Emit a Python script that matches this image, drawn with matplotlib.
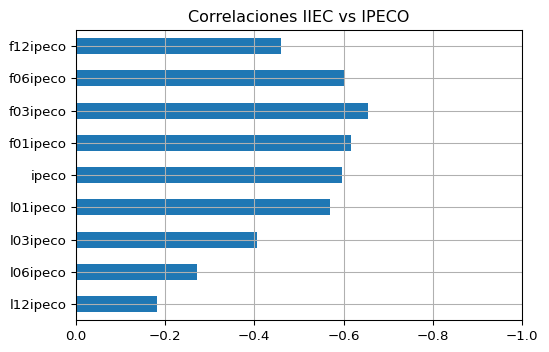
import matplotlib
matplotlib.use('Agg')
import matplotlib.pyplot as plt
import pandas as pd

variables = ['l12ipeco', 'l06ipeco', 'l03ipeco', 'l01ipeco', 'ipeco',
             'f01ipeco', 'f03ipeco', 'f06ipeco', 'f12ipeco']
correlaciones = [-0.183, -0.271, -0.405, -0.570, -0.597,
                 -0.616, -0.655, -0.600, -0.460]

s = pd.Series(correlaciones, index=variables)

fig, ax = plt.subplots(figsize=(549 / 96, 352 / 96), dpi=96)
s.plot.barh(ax=ax, color='#1f77b4')
ax.set_xlim(0, -1)
ax.grid(True)
ax.set_title('Correlaciones IIEC vs IPECO')
fig.subplots_adjust(left=0.138, right=0.951, top=0.915, bottom=0.09)
plt.savefig('out.png')
